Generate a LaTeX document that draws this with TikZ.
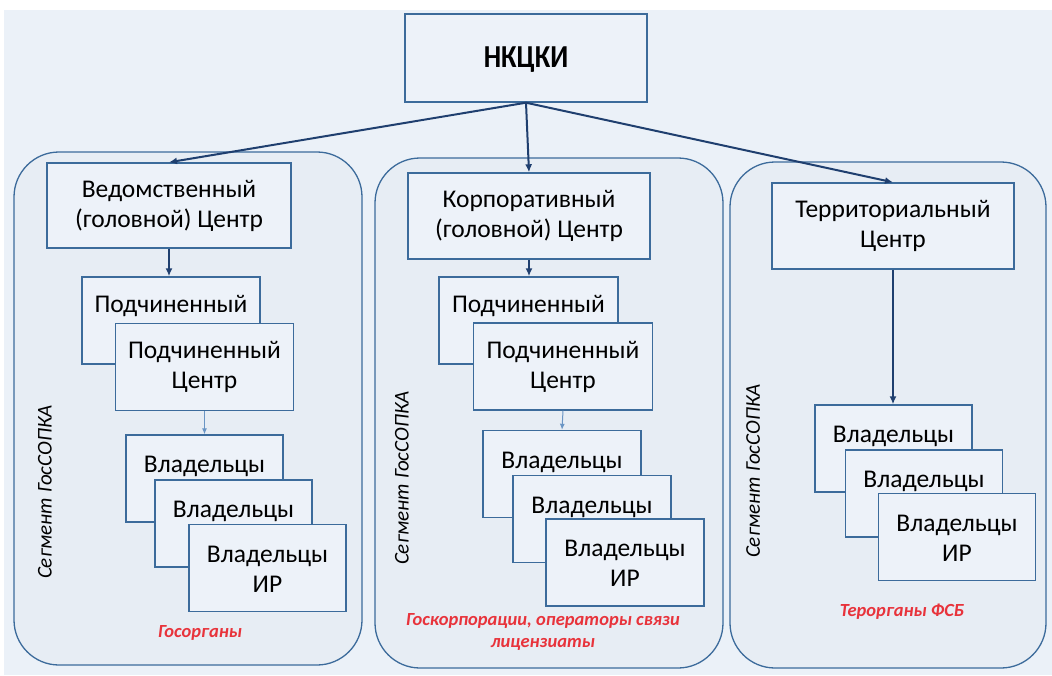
\documentclass[tikz,border=0pt]{standalone}
\usepackage{fontspec}
\setmainfont{Carlito}
\newfontfamily\narrowfont[FakeStretch=0.86]{Carlito}
\usetikzlibrary{positioning,arrows.meta}
\definecolor{bgblue}{HTML}{EBF1F8}
\definecolor{panelfill}{HTML}{E7EDF4}
\definecolor{boxfill}{HTML}{EDF2F9}
\definecolor{frame}{HTML}{3C6B9B}
\definecolor{navy}{HTML}{1F3F6F}
\definecolor{lightarrow}{HTML}{6A95C4}
\definecolor{notered}{HTML}{E8333B}

\begin{document}
\begin{tikzpicture}[x=1pt, y=-1pt,
    every node/.style={font=\fontsize{25.5}{30}\selectfont},
    box/.style={draw=frame, line width=1.4pt, fill=boxfill, align=center, inner sep=0pt, text height=48pt},
    panel/.style={draw=frame, line width=1.3pt, fill=panelfill, rounded corners=45pt},
    seg/.style={rotate=90, font=\itshape\fontsize{21}{25}\selectfont},
    note/.style={text=notered, align=center, font=\bfseries\itshape\fontsize{18.5}{22}\selectfont},
    link/.style={draw=navy, line width=2pt, -{Latex[length=8pt,width=7pt]}},
    thin link/.style={draw=lightarrow, line width=1pt, -{Latex[length=6pt,width=5pt]}}]

    \useasboundingbox (0,0) rectangle (1052,675);
    \fill[white] (0,0) rectangle (1052,675);
    \fill[bgblue] (4,10) rectangle (1052,675);

    % segments
    \draw[panel] (14,152) rectangle (362,665);
    \draw[panel] (375,158) rectangle (723,668);
    \draw[panel] (730,162) rectangle (1046,668);

    \node[box, text height=23pt, minimum width=242pt, minimum height=88pt, font=\narrowfont\bfseries\fontsize{32}{32}\selectfont] (nkcki) at (526,58) {НКЦКИ};

    % left segment
    \node[box, minimum width=244pt, minimum height=85pt] (vedc) at (169,205.5) {Ведомственный\\(головной) Центр};
    \node[box, minimum width=178pt, minimum height=87pt] (suba1) at (171,320.5) {Подчиненный\\\phantom{Центр}};
    \node[box, minimum width=178pt, minimum height=87pt] (subb1) at (204.5,367) {Подчиненный\\Центр};
    \node[box, minimum width=157pt, minimum height=87pt] (owna1) at (204.5,478.5) {Владельцы\\\phantom{ИР}};
    \node[box, minimum width=157pt, minimum height=87pt] (ownb1) at (233.5,523.5) {Владельцы\\\phantom{ИР}};
    \node[box, minimum width=157pt, minimum height=87pt] (ownc1) at (267.5,568) {Владельцы\\ИР};
    \node[seg] (seg1) at (45,492) {Сегмент ГосСОПКА};
    \node[note] (note1) at (200,633) {Госорганы};

    % middle segment
    \node[box, minimum width=242pt, minimum height=86pt] (korpc) at (529,216) {Корпоративный\\(головной) Центр};
    \node[box, minimum width=179pt, minimum height=87pt] (suba2) at (528.5,320.5) {Подчиненный\\\phantom{Центр}};
    \node[box, minimum width=179pt, minimum height=87pt] (subb2) at (563,366.5) {Подчиненный\\Центр};
    \node[box, minimum width=158pt, minimum height=87pt] (owna2) at (562,474) {Владельцы\\\phantom{ИР}};
    \node[box, minimum width=158pt, minimum height=87pt] (ownb2) at (592,519) {Владельцы\\\phantom{ИР}};
    \node[box, minimum width=158pt, minimum height=87pt] (ownc2) at (625,562.5) {Владельцы\\ИР};
    \node[seg] (seg2) at (402,478) {Сегмент ГосСОПКА};
    \node[note] (note2) at (543,632) {Госкорпорации, операторы связи\\лицензиаты};

    % right segment
    \node[box, minimum width=242pt, minimum height=86pt] (terrc) at (893,226) {Территориальный\\Центр};
    \node[box, minimum width=157pt, minimum height=87pt] (owna3) at (893.5,448.5) {Владельцы\\\phantom{ИР}};
    \node[box, minimum width=157pt, minimum height=87pt] (ownb3) at (924,493.5) {Владельцы\\\phantom{ИР}};
    \node[box, minimum width=157pt, minimum height=87pt] (ownc3) at (957,537) {Владельцы\\ИР};
    \node[seg] (seg3) at (753,471) {Сегмент ГосСОПКА};
    \node[note] (note3) at (902,612) {Терорганы ФСБ};

    \draw[link] (nkcki.south) -- (vedc.north);
    \draw[link] (nkcki.south) -- (korpc.north);
    \draw[link] (nkcki.south) -- (terrc.north);
    \draw[link, line width=1.6pt] (vedc.south) -- (vedc.south |- suba1.north);
    \draw[link, line width=1.6pt] (korpc.south) -- (korpc.south |- suba2.north);
    \draw[link, line width=1.8pt] (terrc.south) -- (terrc.south |- owna3.north);
    \draw[thin link] (subb1.south) -- (owna1.north);
    \draw[thin link] (subb2.south) -- (owna2.north);
\end{tikzpicture}
\end{document}
